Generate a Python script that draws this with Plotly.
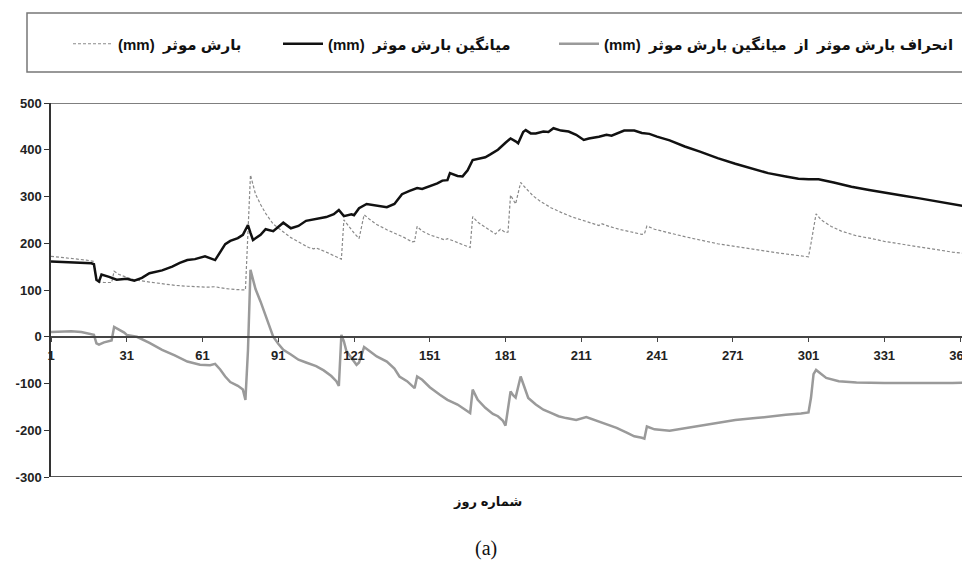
import plotly.graph_objects as go

# ---- data ----
mean_days = [1, 10, 17, 18, 19, 20, 21, 24, 27, 31, 34, 37, 40, 45, 49, 52, 55, 58, 62, 66, 68, 70, 72, 75, 77, 79, 80, 81, 84, 86, 89, 93, 96, 99, 102, 106, 110, 113, 115, 117, 120, 121, 123, 126, 130, 134, 137, 140, 143, 146, 148, 151, 154, 156, 158, 159, 162, 164, 166, 168, 171, 173, 175, 178, 181, 183, 185, 186, 188, 189, 191, 193, 196, 198, 200, 203, 206, 209, 212, 214, 218, 221, 223, 225, 228, 232, 235, 238, 241, 246, 252, 258, 265, 272, 278, 285, 292, 297, 301, 305, 311, 318, 325, 331, 338, 345, 352, 358, 362, 365]
mean_vals = [161, 159, 157, 155, 122, 118, 133, 128, 122, 124, 120, 126, 136, 142, 150, 158, 164, 166, 172, 164, 180, 198, 205, 211, 218, 239, 222, 207, 218, 230, 226, 244, 232, 237, 248, 252, 256, 262, 271, 258, 262, 260, 275, 284, 280, 277, 284, 305, 312, 318, 316, 322, 328, 334, 335, 350, 344, 343, 356, 378, 382, 384, 390, 400, 415, 424, 418, 414, 438, 442, 435, 435, 439, 438, 446, 441, 439, 432, 421, 424, 428, 432, 430, 434, 441, 441, 436, 434, 428, 420, 407, 396, 382, 370, 360, 350, 343, 338, 337, 337, 330, 321, 314, 308, 302, 296, 290, 284, 280, 277]

eff_days = [1, 5, 10, 15, 18, 19, 22, 25, 26, 28, 31, 34, 40, 45, 50, 55, 60, 63, 66, 70, 74, 78, 80, 82, 84, 86, 89, 92, 96, 100, 103, 105, 106, 110, 113, 116, 117, 119, 121, 123, 125, 127, 130, 134, 138, 141, 144, 145, 146, 148, 151, 154, 157, 158, 161, 164, 167, 168, 170, 173, 177, 179, 181, 182, 183, 185, 187, 189, 192, 195, 199, 203, 207, 211, 215, 218, 219, 222, 226, 230, 235, 236, 237, 240, 245, 252, 258, 265, 272, 280, 288, 295, 301, 302, 304, 306, 310, 314, 320, 326, 331, 338, 345, 352, 358, 365]
eff_vals = [172, 170, 167, 164, 161, 118, 116, 116, 140, 133, 127, 122, 117, 113, 110, 108, 107, 106, 107, 103, 101, 100, 346, 305, 283, 264, 241, 228, 212, 200, 191, 188, 190, 181, 174, 166, 250, 235, 222, 210, 261, 252, 240, 229, 220, 212, 203, 204, 236, 226, 218, 212, 207, 210, 203, 197, 191, 257, 245, 235, 220, 230, 223, 224, 303, 284, 330, 318, 301, 289, 276, 266, 257, 250, 243, 238, 242, 236, 230, 225, 219, 220, 237, 230, 223, 214, 207, 199, 193, 186, 180, 175, 171, 200, 263, 250, 236, 226, 216, 210, 204, 198, 192, 186, 181, 177]

dev_days = [1, 5, 9, 13, 16, 18, 19, 20, 22, 24, 25, 26, 28, 30, 31, 33, 35, 40, 45, 50, 55, 60, 64, 66, 68, 70, 72, 75, 77, 78, 79, 80, 81, 82, 84, 86, 88, 89, 91, 93, 96, 99, 102, 106, 109, 112, 114, 115, 116, 117, 118, 120, 122, 123, 125, 127, 130, 134, 137, 139, 142, 145, 146, 148, 151, 155, 158, 162, 165, 167, 168, 170, 173, 176, 178, 180, 181, 182, 183, 184, 185, 187, 188, 190, 193, 196, 199, 202, 205, 209, 213, 217, 221, 225, 229, 232, 235, 236, 237, 240, 246, 252, 258, 265, 272, 280, 286, 292, 298, 301, 302, 303, 304, 306, 308, 313, 320, 331, 340, 350, 358, 365]
dev_vals = [10, 11, 12, 10, 7, 4, -14, -17, -12, -10, -8, 21, 15, 9, 4, 2, 0, -13, -28, -40, -53, -60, -61, -58, -70, -85, -97, -105, -113, -135, -30, 143, 125, 102, 75, 45, 15, 0, -15, -28, -38, -49, -55, -63, -72, -84, -95, -105, 4, -10, -31, -45, -60, -55, -22, -30, -42, -53, -68, -85, -95, -110, -85, -92, -108, -124, -135, -145, -155, -163, -113, -135, -152, -165, -170, -180, -190, -150, -117, -125, -130, -85, -100, -131, -145, -156, -163, -170, -174, -178, -172, -180, -188, -195, -205, -213, -216, -218, -192, -198, -201, -196, -190, -184, -178, -174, -170, -167, -164, -162, -130, -80, -71, -80, -88, -95, -98, -99, -99, -100, -99, -98]

x_ticks = [1, 31, 61, 91, 121, 151, 181, 211, 241, 271, 301, 331, 361]
y_ticks = [-300, -200, -100, 0, 100, 200, 300, 400, 500]

name_eff = "(mm)  بارش موثر"
name_mean = "(mm)  میانگین بارش موثر"
name_dev = "(mm)  انحراف بارش موثر  از  میانگین بارش موثر"
x_title = "شماره روز"
caption = "(a)"

FONT = "Liberation Sans, Arial, DejaVu Sans, sans-serif"

# the page body has an 8px margin: work in figure coords = screen - 8
OFF = 8
W, H = 970 - OFF, 570 - OFF
L = 51 - OFF            # plot left edge (screen 51)
T = 103 - OFF           # y=500 at screen 103
BOT = 477 - OFF         # y=-300 at screen 477
B = H - BOT
plot_h = BOT - T
plot_w = W - L

def sy(screen_y):
    """screen y -> paper fraction"""
    return (BOT - (screen_y - OFF)) / plot_h

def sx(screen_x):
    return ((screen_x - OFF) - L) / plot_w

fig = go.Figure()
fig.add_trace(go.Scatter(x=eff_days, y=eff_vals, mode="lines", name=name_eff,
                         line=dict(color="#8a8a8a", width=1.2, dash="3px,2px"), legend="legend"))
fig.add_trace(go.Scatter(x=mean_days, y=mean_vals, mode="lines", name=name_mean,
                         line=dict(color="#111111", width=2.5), legend="legend2"))
fig.add_trace(go.Scatter(x=dev_days, y=dev_vals, mode="lines", name=name_dev,
                         line=dict(color="#9a9a9a", width=2.5), legend="legend3"))

def leg(screen_px):
    return dict(xref="container", yref="container", x=(screen_px - OFF - 4) / W,
                y=1 - (44 - OFF) / H,
                xanchor="left", yanchor="middle", orientation="h",
                bgcolor="rgba(0,0,0,0)", borderwidth=0, itemwidth=40,
                font=dict(family=FONT, size=15, color="#111", weight="bold"))

fig.update_layout(
    width=W, height=H,
    margin=dict(l=L, r=0, t=T, b=B, pad=0),
    paper_bgcolor="white", plot_bgcolor="white",
    showlegend=True,
    legend=leg(72), legend2=leg(282), legend3=leg(558),
    xaxis=dict(range=[1, 1 + plot_w / 2.525], tickvals=x_ticks, ticktext=[str(v) for v in x_ticks],
               showgrid=False, zeroline=False, showline=True, linecolor="#444", linewidth=1.5,
               ticks="outside", ticklen=4, tickcolor="#444", anchor="free", position=300 / 800,
               automargin=False, ticklabeloverflow="allow", ticklabelstandoff=3,
               tickfont=dict(family=FONT, size=13, color="#222", weight="bold")),
    yaxis=dict(range=[-300, 500], tickvals=y_ticks, ticktext=[str(v) for v in y_ticks],
               showgrid=False, zeroline=False,
               showline=True, linecolor="#333", linewidth=1.5, ticks="outside", ticklen=5,
               tickcolor="#333", automargin=False,
               tickfont=dict(family=FONT, size=13, color="#222", weight="bold")),
    shapes=[
        dict(type="line", xref="paper", yref="y", x0=0, x1=1, y0=500, y1=500,
             line=dict(color="#555", width=1.5)),
        dict(type="line", xref="paper", yref="y", x0=0, x1=1, y0=-300, y1=-300,
             line=dict(color="#555", width=2)),
        dict(type="rect", xref="paper", yref="paper",
             x0=sx(27), x1=1.01, y0=sy(72), y1=sy(13),
             line=dict(color="#777", width=1.5), fillcolor="rgba(0,0,0,0)"),
    ],
    annotations=[
        dict(text=x_title, xref="paper", yref="paper", x=sx(487), y=sy(501),
             showarrow=False, yanchor="middle",
             font=dict(family=FONT, size=13, color="#111", weight="bold")),
        dict(text=caption, xref="paper", yref="paper", x=sx(486), y=sy(548),
             showarrow=False, yanchor="middle",
             font=dict(family="Liberation Serif, Times New Roman, serif", size=20, color="#111")),
    ],
)

fig.write_html("out.html")
